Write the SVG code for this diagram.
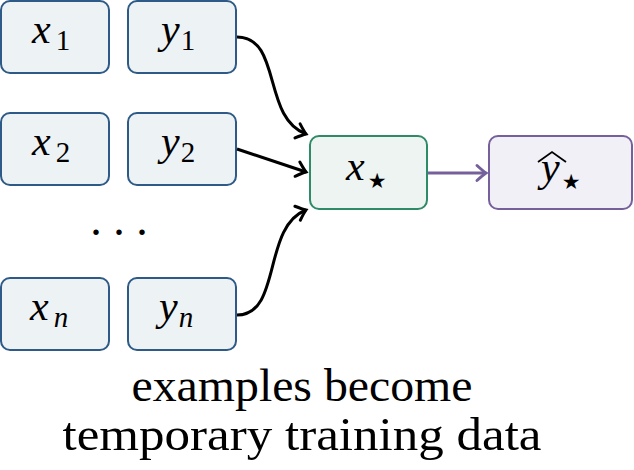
<svg xmlns="http://www.w3.org/2000/svg" width="634" height="470" viewBox="0 0 634 470">
<defs>
<marker id="ah" markerUnits="userSpaceOnUse" markerWidth="20" markerHeight="20" viewBox="-12 -10 14 20" refX="0" refY="0" orient="auto">
<path d="M-9,-7.5 Q-3,-2 0,0 Q-3,2 -9,7.5" fill="none" stroke="#000" stroke-width="3" stroke-linecap="round"/>
</marker>
<marker id="ahp" markerUnits="userSpaceOnUse" markerWidth="20" markerHeight="20" viewBox="-12 -10 14 20" refX="0" refY="0" orient="auto">
<path d="M-9,-7.5 Q-3,-2 0,0 Q-3,2 -9,7.5" fill="none" stroke="#76609b" stroke-width="3" stroke-linecap="round"/>
</marker>
</defs>
<style>
.in{fill:#edf2f5;stroke:#2d5a86;stroke-width:2}
.q{fill:#edf4f1;stroke:#2f8a68;stroke-width:2}
.o{fill:#f1f0f6;stroke:#76609b;stroke-width:2}
.m{font-family:"Liberation Serif",serif;font-style:italic;font-size:42px;fill:#000}
.s{font-family:"Liberation Serif",serif;font-style:normal;font-size:29px}
.si{font-family:"Liberation Serif",serif;font-style:italic;font-size:29px}
.st{font-family:"DejaVu Sans",sans-serif;font-style:normal;font-size:21px}
.t{font-family:"Liberation Serif",serif;font-size:46px;fill:#000}
.c{fill:none;stroke:#000;stroke-width:3}
</style>
<g id="x1"><rect class="in" x="1" y="1" width="108" height="72" rx="9"/><text class="m" x="32" y="43">x<tspan class="s" dx="5" dy="7">1</tspan></text></g>
<g id="y1"><rect class="in" x="128" y="1" width="108" height="72" rx="9"/><text class="m" x="161" y="43">y<tspan class="s" dx="1" dy="7">1</tspan></text></g>
<g id="x2"><rect class="in" x="1" y="113" width="108" height="72" rx="9"/><text class="m" x="32" y="155">x<tspan class="s" dx="5" dy="7">2</tspan></text></g>
<g id="y2"><rect class="in" x="128" y="113" width="108" height="72" rx="9"/><text class="m" x="161" y="155">y<tspan class="s" dx="1" dy="7">2</tspan></text></g>
<g id="dots"><text class="t" x="119" y="235" text-anchor="middle" font-size="40">. . .</text></g>
<g id="xn"><rect class="in" x="1" y="278" width="108" height="72" rx="9"/><text class="m" x="30" y="320">x<tspan class="si" dx="5" dy="7">n</tspan></text></g>
<g id="yn"><rect class="in" x="128" y="278" width="108" height="72" rx="9"/><text class="m" x="159" y="320">y<tspan class="si" dx="1" dy="7">n</tspan></text></g>
<g id="xstar"><rect class="q" x="310" y="136" width="117" height="73" rx="9"/><text class="m" x="346" y="180">x<tspan class="st" dx="3" dy="8">★</tspan></text></g>
<g id="yhat"><rect class="o" x="489" y="136" width="143" height="73" rx="9"/><text class="m" x="541" y="181">y<tspan class="st" dx="2" dy="8">★</tspan></text><path d="M538,162 L552,152 L566,162" fill="none" stroke="#000" stroke-width="1.8"/></g>
<g id="connectors">
<path class="c" d="M237,37 C282,37 262,118 306,134" marker-end="url(#ah)"/>
<path class="c" d="M237,149 L306,172" marker-end="url(#ah)"/>
<path class="c" d="M237,315 C282,315 262,227 306,210" marker-end="url(#ah)"/>
<path d="M428,173 L486,173" fill="none" stroke="#76609b" stroke-width="3" marker-end="url(#ahp)"/>
</g>
<g id="caption">
<text class="t" x="302" y="401" text-anchor="middle" textLength="341" lengthAdjust="spacingAndGlyphs">examples become</text>
<text class="t" x="302" y="450" text-anchor="middle" textLength="479" lengthAdjust="spacingAndGlyphs">temporary training data</text>
</g>
</svg>
